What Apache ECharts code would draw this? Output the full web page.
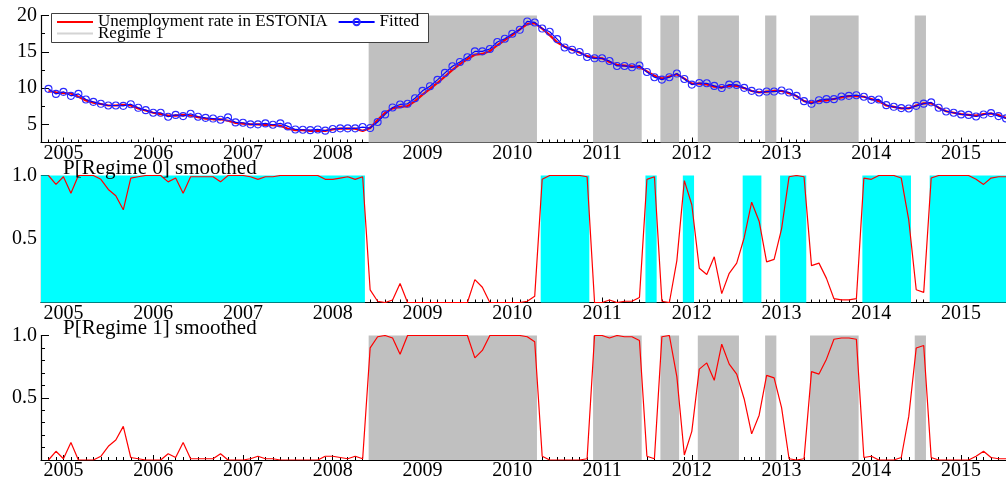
<!DOCTYPE html>
<html>
<head>
<meta charset="utf-8">
<script src="https://cdn.jsdelivr.net/npm/echarts@6/dist/echarts.min.js"></script>
<style>
  html, body { margin: 0; padding: 0; background: #fff; }
  #chart { width: 1006px; height: 481px; }
</style>
</head>
<body>
<div id="chart"></div>
<script>
// ---- Data (monthly, first observation 2004-11) ----
const START_YEAR = 2004;
const START_MONTH = 11;

const yearLabels = ['2005','2006','2007','2008','2009','2010','2011','2012','2013','2014','2015'];

// Unemployment rate in ESTONIA (actual)
const actual = [
  9.6, 9.4, 9.3, 9.25, 8.8, 8.3, 8.0, 7.8, 7.6, 7.6, 7.7, 7.6,
  7.2, 6.9, 6.6, 6.4, 6.2, 6.2, 6.3, 6.2, 6.0, 5.8, 5.7, 5.7,
  5.5, 5.2, 5.1, 5.0, 5.0, 4.9, 4.9, 4.8, 4.4, 4.2, 4.2, 4.1,
  4.1, 4.1, 4.3, 4.4, 4.4, 4.4, 4.1, 4.5, 5.6, 6.6, 7.2, 7.4,
  7.5, 8.2, 9.1, 9.9, 10.7, 11.6, 12.5, 13.3, 14.0, 14.6, 14.7, 15.1,
  15.9, 16.6, 17.3, 18.1, 18.8, 18.95, 18.2, 17.3, 16.3, 15.7, 15.3, 14.9,
  14.4, 14.2, 14.1, 13.6, 13.2, 13.1, 13.0, 12.9, 12.3, 11.7, 11.3, 11.6,
  11.9, 11.3, 10.6, 10.6, 10.5, 10.2, 10.1, 10.3, 10.3, 10.0, 9.6, 9.4,
  9.5, 9.6, 9.6, 9.3, 8.9, 8.2, 8.0, 8.2, 8.3, 8.5, 8.7, 8.9,
  8.9, 8.8, 8.5, 8.2, 7.6, 7.4, 7.2, 7.2, 7.6, 7.9, 7.9, 7.3,
  6.8, 6.6, 6.4, 6.3, 6.2, 6.4, 6.5, 6.3, 5.9
];

// Fitted
const fitted = [
  9.89, 9.2, 9.48, 8.93, 9.2, 8.43, 8.1, 7.83, 7.6, 7.6, 7.55, 7.78,
  7.28, 6.96, 6.6, 6.6, 6.05, 6.3, 6.14, 6.46, 6.05, 5.9, 5.8, 5.64,
  5.96, 5.27, 5.22, 5.0, 5.0, 5.13, 4.95, 5.13, 4.72, 4.3, 4.26, 4.2,
  4.3, 4.13, 4.36, 4.45, 4.45, 4.45, 4.63, 4.49, 5.32, 6.37, 7.33, 7.74,
  7.83, 8.6, 9.62, 10.26, 11.13, 12.09, 13.0, 13.6, 14.24, 15.06, 15.06, 15.38,
  16.34, 16.8, 17.48, 18.03, 19.18, 19.04, 18.2, 17.76, 16.75, 15.6, 15.29, 14.97,
  14.28, 14.1, 14.1, 13.73, 13.05, 13.05, 12.86, 13.1, 12.22, 11.5, 11.17, 11.5,
  12.0, 11.26, 10.48, 10.7, 10.66, 10.3, 10.0, 10.48, 10.44, 10.03, 9.62, 9.39,
  9.52, 9.52, 9.66, 9.39, 8.93, 8.2, 7.83, 8.33, 8.47, 8.47, 8.84, 8.93,
  9.02, 8.8, 8.38, 8.43, 7.65, 7.42, 7.24, 7.19, 7.55, 7.85, 8.03, 7.29,
  6.78, 6.6, 6.37, 6.3, 6.08, 6.35, 6.55, 6.14, 5.82
];

// P[Regime 0] smoothed
const pRegime0 = [
  1.0, 0.93, 0.99, 0.86, 1.0, 1.0, 1.0, 0.97, 0.89, 0.84, 0.73, 0.98,
  0.99, 1.0, 1.0, 1.0, 0.95, 0.98, 0.86, 0.99, 0.99, 0.99, 0.99, 0.95,
  1.0, 1.0, 1.0, 0.99, 0.97, 0.99, 0.99, 1.0, 1.0, 1.0, 1.0, 1.0,
  1.0, 0.97, 0.97, 0.98, 0.99, 0.97, 0.99,
  0.10, 0.01, 0.0, 0.02, 0.15, 0.0, 0.0, 0.0, 0.0, 0.0, 0.0, 0.0, 0.0, 0.0,
  0.18, 0.12, 0.0, 0.0, 0.0, 0.0, 0.0, 0.01, 0.05,
  0.97, 1.0, 1.0, 1.0, 1.0, 1.0, 0.99,
  0.0, 0.0, 0.02, 0.0, 0.01, 0.01, 0.04,
  0.97, 0.99,
  0.01, 0.0, 0.33, 0.96, 0.77, 0.27, 0.22, 0.36, 0.07, 0.23, 0.31, 0.51, 0.79, 0.64, 0.32, 0.34, 0.58, 0.99, 1.0, 0.99,
  0.29, 0.31, 0.19, 0.03, 0.02, 0.02, 0.03,
  0.98, 0.97, 1.0, 1.0, 1.0, 0.98, 0.65,
  0.10, 0.08,
  0.98, 1.0, 1.0, 1.0, 1.0, 1.0, 0.97, 0.93, 0.98, 0.99, 0.99
];

// P[Regime 1] smoothed
const pRegime1 = [
  0.0, 0.07, 0.01, 0.14, 0.0, 0.0, 0.0, 0.03, 0.11, 0.16, 0.27, 0.02,
  0.01, 0.0, 0.0, 0.0, 0.05, 0.02, 0.14, 0.01, 0.01, 0.01, 0.01, 0.05,
  0.0, 0.0, 0.0, 0.01, 0.03, 0.01, 0.01, 0.0, 0.0, 0.0, 0.0, 0.0,
  0.0, 0.03, 0.03, 0.02, 0.01, 0.03, 0.01,
  0.90, 0.99, 1.0, 0.98, 0.85, 1.0, 1.0, 1.0, 1.0, 1.0, 1.0, 1.0, 1.0, 1.0,
  0.82, 0.88, 1.0, 1.0, 1.0, 1.0, 1.0, 0.99, 0.95,
  0.03, 0.0, 0.0, 0.0, 0.0, 0.0, 0.01,
  1.0, 1.0, 0.98, 1.0, 0.99, 0.99, 0.96,
  0.03, 0.01,
  0.99, 1.0, 0.67, 0.04, 0.23, 0.73, 0.78, 0.64, 0.93, 0.77, 0.69, 0.49, 0.21, 0.36, 0.68, 0.66, 0.42, 0.01, 0.0, 0.01,
  0.71, 0.69, 0.81, 0.97, 0.98, 0.98, 0.97,
  0.02, 0.03, 0.0, 0.0, 0.0, 0.02, 0.35,
  0.90, 0.92,
  0.02, 0.0, 0.0, 0.0, 0.0, 0.0, 0.03, 0.07, 0.02, 0.01, 0.01
];

// Regime classification periods: [first month, last month] as month offsets from 2005-01
const regime0Periods = [[-2, 40], [64, 70], [78, 79], [83, 84], [91, 93], [96, 99], [107, 113], [116, 126]];
const regime1Periods = [[41, 63], [71, 77], [80, 82], [85, 90], [94, 95], [100, 106], [114, 115]];

// ---- Build ----
const FIRST_T = (START_YEAR - 2005) * 12 + (START_MONTH - 1);
const X_MIN = FIRST_T - 1;
const X_MAX = FIRST_T + actual.length - 1;
const pairs = arr => arr.map((v, i) => [FIRST_T + i, v]);

const yearTicks = yearLabels.map((_, i) => i * 12);
const monthTicks = [];
for (let m = X_MIN; m <= X_MAX; m++) monthTicks.push(m);

const FONT = 'Liberation Serif';
const BLACK = '#000';
// thin horizontal line icon (the leading/trailing moves keep the 36x8 box)
const LINE_ICON = 'path://M0,0M0,3L36,3L36,5L0,5ZM36,8';

function areas(periods) {
  return periods.map(([s, e]) => [
    { xAxis: s === FIRST_T ? X_MIN : Math.max(X_MIN, s - 0.2) },
    { xAxis: Math.min(X_MAX, e + 0.3) }
  ]);
}

const grids = [
  { left: 41, right: 0, top: 15.5, height: 127 },
  { left: 41, right: 0, top: 175.5, height: 127 },
  { left: 41, right: 0, top: 335.5, height: 127 }
];

const xAxis = [];
const yAxis = [];
const yCfg = [
  { min: 2.5, max: 20, labels: [5, 10, 15, 20], minor: [2.5, 7.5, 12.5, 17.5], fmt: v => String(v) },
  { min: 0, max: 1, labels: [0.5, 1.0], minor: [0.1, 0.2, 0.3, 0.4, 0.6, 0.7, 0.8, 0.9], fmt: v => v.toFixed(1) },
  { min: 0, max: 1, labels: [0.5, 1.0], minor: [0.1, 0.2, 0.3, 0.4, 0.6, 0.7, 0.8, 0.9], fmt: v => v.toFixed(1) }
];
grids.forEach((g, gi) => {
  xAxis.push({
    type: 'value', gridIndex: gi, position: 'bottom', min: X_MIN, max: X_MAX,
    axisLine: { show: true, onZero: false, lineStyle: { color: BLACK, width: 1.2 } },
    splitLine: { show: false },
    axisTick: { show: true, inside: true, length: 5, customValues: yearTicks, lineStyle: { color: BLACK } },
    axisLabel: {
      customValues: yearTicks,
      formatter: v => yearLabels[Math.round(v / 12)],
      fontFamily: FONT, fontSize: 20, color: BLACK, margin: 1
    }
  });
  xAxis.push({
    type: 'value', gridIndex: gi, position: 'bottom', min: X_MIN, max: X_MAX,
    axisLine: { show: false, onZero: false }, splitLine: { show: false },
    axisTick: { show: true, inside: true, length: 3, customValues: monthTicks, lineStyle: { color: BLACK } },
    axisLabel: { show: false }
  });
  const c = yCfg[gi];
  yAxis.push({
    type: 'value', gridIndex: gi, position: 'left', min: c.min, max: c.max,
    axisLine: { show: true, onZero: false, lineStyle: { color: BLACK, width: 1.2 } },
    splitLine: { show: false },
    axisTick: { show: true, inside: true, length: 8, customValues: c.labels, lineStyle: { color: BLACK } },
    axisLabel: { customValues: c.labels, formatter: c.fmt, fontFamily: FONT, fontSize: 20, color: BLACK, margin: 4 }
  });
  yAxis.push({
    type: 'value', gridIndex: gi, position: 'left', min: c.min, max: c.max,
    axisLine: { show: false, onZero: false }, splitLine: { show: false },
    axisTick: { show: true, inside: true, length: 4, customValues: c.minor, lineStyle: { color: BLACK } },
    axisLabel: { show: false }
  });
});

const series = [
  {
    name: 'Regime 1', type: 'line', xAxisIndex: 0, yAxisIndex: 0, data: [], z: 1,
    symbol: 'none', lineStyle: { color: '#d4d4d4', width: 2 }, itemStyle: { color: '#d4d4d4' },
    markArea: { silent: true, itemStyle: { color: '#c0c0c0', opacity: 1 }, data: areas(regime1Periods) }
  },
  {
    name: 'Unemployment rate in ESTONIA', type: 'line', xAxisIndex: 0, yAxisIndex: 0, z: 3,
    data: pairs(actual), symbol: 'none', lineStyle: { color: '#ff0000', width: 2.2 }, itemStyle: { color: '#ff0000' }
  },
  {
    name: 'Fitted', type: 'line', xAxisIndex: 0, yAxisIndex: 0, z: 4,
    data: pairs(fitted), symbol: 'circle', symbolSize: 7, showAllSymbol: true,
    lineStyle: { color: '#0000ff', width: 1.2 },
    itemStyle: { color: 'rgba(255,255,255,0)', borderColor: '#2a2aff', borderWidth: 1.1 }
  },
  {
    name: 'Regime 0 areas', type: 'line', xAxisIndex: 2, yAxisIndex: 2, data: [], z: 1, symbol: 'none',
    markArea: { silent: true, itemStyle: { color: '#00ffff', opacity: 1 }, data: areas(regime0Periods) }
  },
  {
    name: 'P[Regime 0] smoothed', type: 'line', xAxisIndex: 2, yAxisIndex: 2, z: 3,
    data: pairs(pRegime0), symbol: 'none', lineStyle: { color: '#ff0000', width: 1.2 }
  },
  {
    name: 'Regime 1 areas', type: 'line', xAxisIndex: 4, yAxisIndex: 4, data: [], z: 1, symbol: 'none',
    markArea: { silent: true, itemStyle: { color: '#c0c0c0', opacity: 1 }, data: areas(regime1Periods) }
  },
  {
    name: 'P[Regime 1] smoothed', type: 'line', xAxisIndex: 4, yAxisIndex: 4, z: 3,
    data: pairs(pRegime1), symbol: 'none', lineStyle: { color: '#ff0000', width: 1.2 }
  }
];

const legendText = { fontFamily: FONT, fontSize: 17, color: BLACK };
const option = {
  animation: false,
  backgroundColor: '#fff',
  grid: grids,
  xAxis, yAxis, series,
  legend: [
    { data: [
        { name: 'Unemployment rate in ESTONIA', icon: LINE_ICON, itemStyle: { color: '#ff0000' } },
        { name: 'Fitted' }
      ],
      left: 57, top: 13.5, padding: 0, itemGap: 10,
      itemWidth: 36, itemHeight: 8, textStyle: legendText, selectedMode: false, z: 20 },
    { data: [{ name: 'Regime 1', icon: LINE_ICON, itemStyle: { color: '#d4d4d4' } }],
      left: 57, top: 25, padding: 0, itemGap: 10,
      itemWidth: 36, itemHeight: 8, textStyle: legendText, selectedMode: false, z: 21 }
  ],
  graphic: [
    { type: 'rect', z: 15, shape: { x: 51.5, y: 13.5, width: 377, height: 29 },
      style: { fill: '#fff', stroke: '#404040', lineWidth: 1 } },
    { type: 'text', z: 15, x: 63, y: 168.5,
      style: { text: 'P[Regime 0] smoothed', font: '21px "Liberation Serif"', fill: BLACK, textVerticalAlign: 'middle' } },
    { type: 'text', z: 15, x: 63, y: 328.5,
      style: { text: 'P[Regime 1] smoothed', font: '21px "Liberation Serif"', fill: BLACK, textVerticalAlign: 'middle' } }
  ]
};

const chart = echarts.init(document.getElementById('chart'), null, { renderer: 'canvas' });
chart.setOption(option);
</script>
</body>
</html>
